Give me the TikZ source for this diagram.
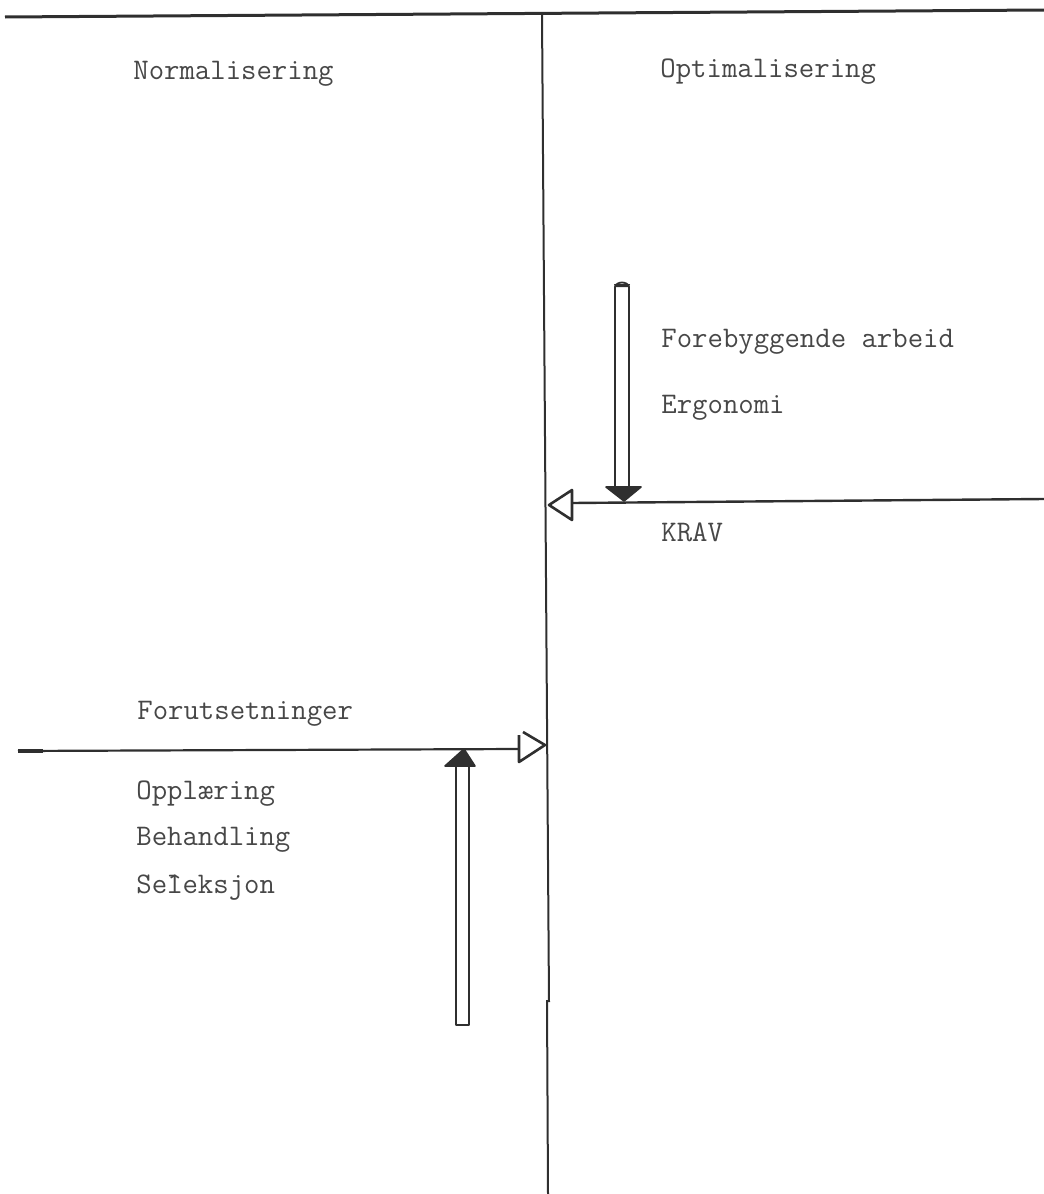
\documentclass[tikz,border=0pt]{standalone}
\definecolor{ink}{HTML}{2F2F2F}
\definecolor{inktext}{HTML}{474747}
\begin{document}
\begin{tikzpicture}[x=0.5pt,y=-0.5pt,
  rule/.style={draw=ink, line width=1pt},
  heavyrule/.style={draw=ink, line width=1.5pt},
  shaft/.style={draw=ink, line width=0.9pt, line join=round},
  openhead/.style={draw=ink, line width=1.3pt, line join=round},
  solidhead/.style={fill=ink, draw=ink, line width=0.8pt, line join=round},
  lbl/.style={anchor=base west, inner sep=0pt, text=inktext,
              font=\fontsize{14.95}{18}\selectfont\ttfamily}]
\useasboundingbox (0,0) rectangle (1044,1194);

% frame: top rule and the dividing line
\coordinate (topL) at (5,17);
\coordinate (topR) at (1044,10);
\coordinate (divTop) at (542,14);
\coordinate (divMid) at (549,1002);
\coordinate (divMid2) at (547,1000);
\coordinate (divBot) at (548,1194);
\draw[heavyrule] (topL) -- (topR);
\draw[rule] (divTop) -- (divMid);
\draw[rule] (divMid2) -- (divBot);

% column headings
\node[lbl] (norm) at (133,79) {Normalisering};
\node[lbl] (opt) at (660,77) {Optimalisering};

% right side: demands pushing left onto the divide
\node[lbl] (fore) at (661,347) {Forebyggende arbeid};
\node[lbl] (ergo) at (661,413) {Ergonomi};
\node[lbl] (krav) at (661,541) {KRAV};
\coordinate (kravEnd) at (1044,499);
\coordinate (kravBase) at (572,503);
\coordinate (kravTip) at (549,505);
\draw[rule, line width=1.2pt] (kravEnd) -- (kravBase);
\draw[openhead] (572,490) -- (kravTip) -- (572,520) -- cycle;

% hollow arrow down into the KRAV line
\coordinate (dnTop) at (622,282);
\coordinate (dnTip) at (624,501);
\draw[shaft] (615,489) -- (615,287) .. controls (616,281) and (628,281) .. (629,287) -- (629,489);
\fill[ink] (614,284) -- (630,284) -- (629,287) -- (615,287) -- cycle;
\draw[solidhead] (606,487) -- (641,487) -- (dnTip) -- cycle;

% left side: prerequisites pushing right onto the divide
\node[lbl] (forut) at (137,719) {Forutsetninger};
\node[lbl] (oppl) at (136,799) {Opplæring};
\node[lbl] (beh) at (136,845) {Behandling};
\node[lbl] (sel) at (136,893) {Se\^{l}eksjon};
\coordinate (forStart) at (18,751);
\coordinate (forBase) at (519,749);
\coordinate (forTip) at (545,745);
\draw[rule, line width=1.1pt] (forStart) -- (forBase);
\draw[ink, line width=2pt] (forStart) -- (43,751);
\draw[openhead] (523,732) -- (forTip) -- (519,762) -- (519,735);

% hollow arrow up into the prerequisites line
\coordinate (upTip) at (464,749);
\draw[shaft] (456,766) -- (456,1025) -- (469,1025) -- (469,766);
\draw[solidhead] (445,766) -- (475,766) -- (upTip) -- cycle;
\end{tikzpicture}
\end{document}
